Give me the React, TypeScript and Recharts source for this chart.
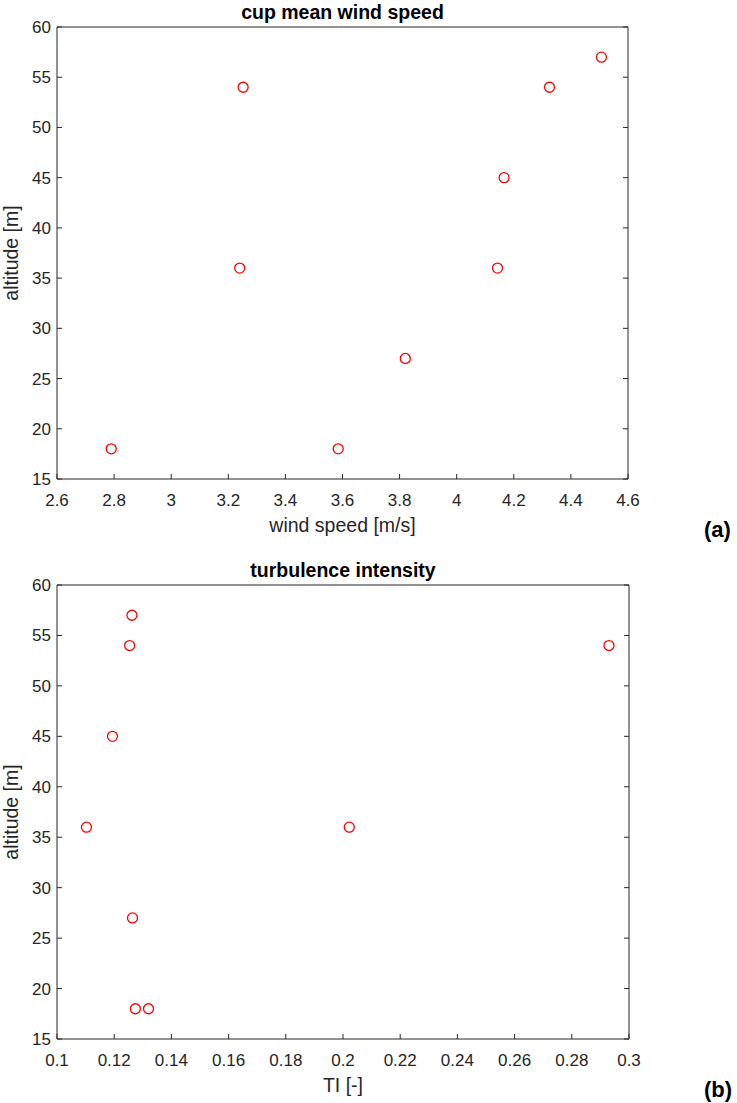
import React from "react";
import { ScatterChart, Scatter, XAxis, YAxis } from "recharts";

const altitude = [18, 18, 27, 36, 36, 45, 54, 54, 57];
const windSpeed = [2.79, 3.585, 3.82, 3.24, 4.143, 4.166, 3.252, 4.325, 4.507];
const turbulence = [0.1274, 0.132, 0.1264, 0.1103, 0.2022, 0.1194, 0.1254, 0.293, 0.1262];

const windTicks = [2.6, 2.8, 3, 3.2, 3.4, 3.6, 3.8, 4, 4.2, 4.4, 4.6];
const tiTicks = [0.1, 0.12, 0.14, 0.16, 0.18, 0.2, 0.22, 0.24, 0.26, 0.28, 0.3];
const altTicks = [15, 20, 25, 30, 35, 40, 45, 50, 55, 60];

const FONT = "'Liberation Sans', Arial, Helvetica, sans-serif";
const INK = "#262626";
const TICK_LEN = 5;
const X_MARGIN = 15;
const Y_MARGIN = 6;

const ring = (props: any) => (
  <circle cx={props.cx} cy={props.cy} r={5} fill="none" stroke="#ff0000" strokeWidth={1.3} />
);

// matlab style: tick marks point into the plot box
const bottomTick = (p: any) => (
  <g>
    <line x1={p.x} x2={p.x} y1={p.y - X_MARGIN} y2={p.y - X_MARGIN - TICK_LEN} stroke={INK} />
    <text x={p.x} y={p.y} dy="0.71em" textAnchor="middle" fill={INK} fontSize={17} fontFamily={FONT}>
      {p.payload.value}
    </text>
  </g>
);

const leftTick = (p: any) => (
  <g>
    <line x1={p.x + Y_MARGIN} x2={p.x + Y_MARGIN + TICK_LEN} y1={p.y} y2={p.y} stroke={INK} />
    <text x={p.x} y={p.y} dy="0.355em" textAnchor="end" fill={INK} fontSize={17} fontFamily={FONT}>
      {p.payload.value}
    </text>
  </g>
);

const topTick = (p: any) => <line x1={p.x} x2={p.x} y1={p.y} y2={p.y + TICK_LEN} stroke={INK} />;
const rightTick = (p: any) => <line x1={p.x} x2={p.x - TICK_LEN} y1={p.y} y2={p.y} stroke={INK} />;

type PanelProps = {
  top: number;
  height: number;
  plotTop: number;
  plotBottom: number;
  plotRight: number;
  title: string;
  xLabel: string;
  tag: string;
  xs: number[];
  xTicks: number[];
};

function Panel({ top, height, plotTop, plotBottom, plotRight, title, xLabel, tag, xs, xTicks }: PanelProps) {
  const data = xs.map((x, i) => ({ x, y: altitude[i] }));
  const xDomain = [xTicks[0], xTicks[xTicks.length - 1]];
  const axisHeight = height - (plotBottom - top);
  const centerX = (57 + plotRight) / 2;
  return (
    <div style={{ position: "absolute", left: 0, top, width: 737, height }}>
      <ScatterChart
        width={737}
        height={height}
        margin={{ top: plotTop - top - 1, right: 737 - plotRight - 1, bottom: 0, left: 0 }}
        style={{ fontFamily: FONT }}
      >
        <XAxis
          xAxisId="bottom"
          dataKey="x"
          type="number"
          domain={xDomain}
          ticks={xTicks}
          allowDataOverflow
          height={axisHeight}
          tickSize={0}
          tickLine={false}
          tickMargin={X_MARGIN}
          stroke={INK}
          tick={bottomTick}
          label={{ value: xLabel, position: "insideBottom", offset: axisHeight - 53, fill: INK, fontSize: 19.5, fontFamily: FONT }}
        />
        <XAxis
          xAxisId="top"
          orientation="top"
          type="number"
          domain={xDomain}
          ticks={xTicks}
          allowDataOverflow
          height={1}
          tickSize={0}
          tickLine={false}
          tickMargin={0}
          tick={topTick}
          stroke={INK}
        />
        <YAxis
          yAxisId="left"
          dataKey="y"
          type="number"
          domain={[15, 60]}
          ticks={altTicks}
          allowDataOverflow
          width={57}
          tickSize={0}
          tickLine={false}
          tickMargin={Y_MARGIN}
          stroke={INK}
          tick={leftTick}
          label={{ value: "altitude [m]", angle: -90, position: "insideLeft", offset: 11, fill: INK, fontSize: 19.5, fontFamily: FONT, style: { textAnchor: "middle" } }}
        />
        <YAxis
          yAxisId="right"
          orientation="right"
          type="number"
          domain={[15, 60]}
          ticks={altTicks}
          allowDataOverflow
          width={1}
          tickSize={0}
          tickLine={false}
          tickMargin={0}
          tick={rightTick}
          stroke={INK}
        />
        <Scatter data={data} xAxisId="bottom" yAxisId="left" shape={ring} isAnimationActive={false} />
      </ScatterChart>
      <div
        style={{
          position: "absolute",
          left: centerX - 200,
          width: 400,
          top: plotTop - top - 26,
          textAlign: "center",
          fontFamily: FONT,
          fontWeight: "bold",
          fontSize: 19.5,
          color: "#000",
        }}
      >
        {title}
      </div>
      <div
        style={{
          position: "absolute",
          left: 704,
          top: plotBottom - top + 38,
          fontFamily: FONT,
          fontWeight: "bold",
          fontSize: 22,
          color: "#000",
        }}
      >
        {tag}
      </div>
    </div>
  );
}

export default function App() {
  return (
    <div style={{ position: "absolute", left: 0, top: 0, width: 737, height: 1103, background: "#fff" }}>
      <Panel
        top={0}
        height={545}
        plotTop={27}
        plotBottom={479}
        plotRight={628}
        title="cup mean wind speed"
        xLabel="wind speed [m/s]"
        tag="(a)"
        xs={windSpeed}
        xTicks={windTicks}
      />
      <Panel
        top={558}
        height={545}
        plotTop={585}
        plotBottom={1039}
        plotRight={629}
        title="turbulence intensity"
        xLabel="TI [-]"
        tag="(b)"
        xs={turbulence}
        xTicks={tiTicks}
      />
    </div>
  );
}
